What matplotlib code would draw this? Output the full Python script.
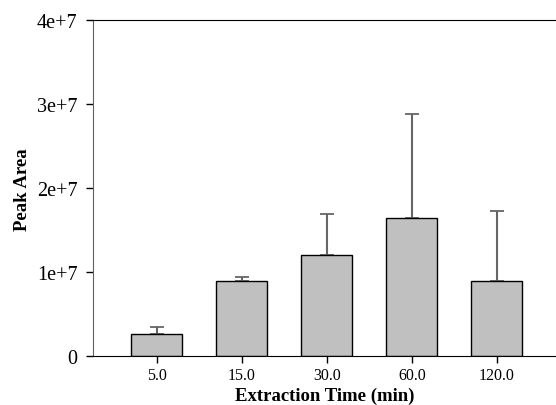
import matplotlib
matplotlib.use('Agg')
import matplotlib.pyplot as plt

times = ['5.0', '15.0', '30.0', '60.0', '120.0']
peak_area = [2.6e6, 9.0e6, 1.21e7, 1.65e7, 8.95e6]
err_upper = [0.85e6, 0.45e6, 0.48e7, 1.23e7, 0.83e7]
yticks = [0, 1e7, 2e7, 3e7, 4e7]
ytick_labels = ['0', '1e+7', '2e+7', '3e+7', '4e+7']

plt.rcParams['font.family'] = ['Liberation Serif', 'DejaVu Serif']

fig = plt.figure(figsize=(5.56, 4.06), dpi=100)
ax = fig.add_axes([0.1673, 0.12, 0.8327, 0.828])

x = list(range(len(times)))
ax.bar(x, peak_area, width=0.6, color='#c0c0c0', edgecolor='black', linewidth=1, zorder=2)
_, caps, _ = ax.errorbar(x, peak_area, yerr=[[0]*len(x), err_upper], fmt='none',
                         ecolor='#666666', elinewidth=1.5, capsize=5, capthick=1.3, zorder=1)
for c in caps:
    c.set_color('black')

ax.set_xlim(-0.747, 4.694)
ax.set_ylim(0, 4e7)
ax.set_xticks(x)
ax.set_xticklabels(times, fontsize=11.5)
ax.set_yticks(yticks)
ax.set_yticklabels(ytick_labels, fontsize=14.5)
ax.tick_params(direction='out', length=5, width=1)
ax.tick_params(axis='x', pad=3)
ax.tick_params(axis='y', pad=6)

ax.spines['right'].set_visible(False)
ax.spines['left'].set_color('#606060')
ax.spines['top'].set_color('black')
ax.spines['bottom'].set_color('black')

ax.set_xlabel('Extraction Time (min)', fontweight='bold', fontsize=13.5, labelpad=2.5)
ax.set_ylabel('Peak Area', fontweight='bold', fontsize=13.5)
ax.yaxis.set_label_coords(-0.135, 0.5)

fig.savefig('out.png', dpi=100)
